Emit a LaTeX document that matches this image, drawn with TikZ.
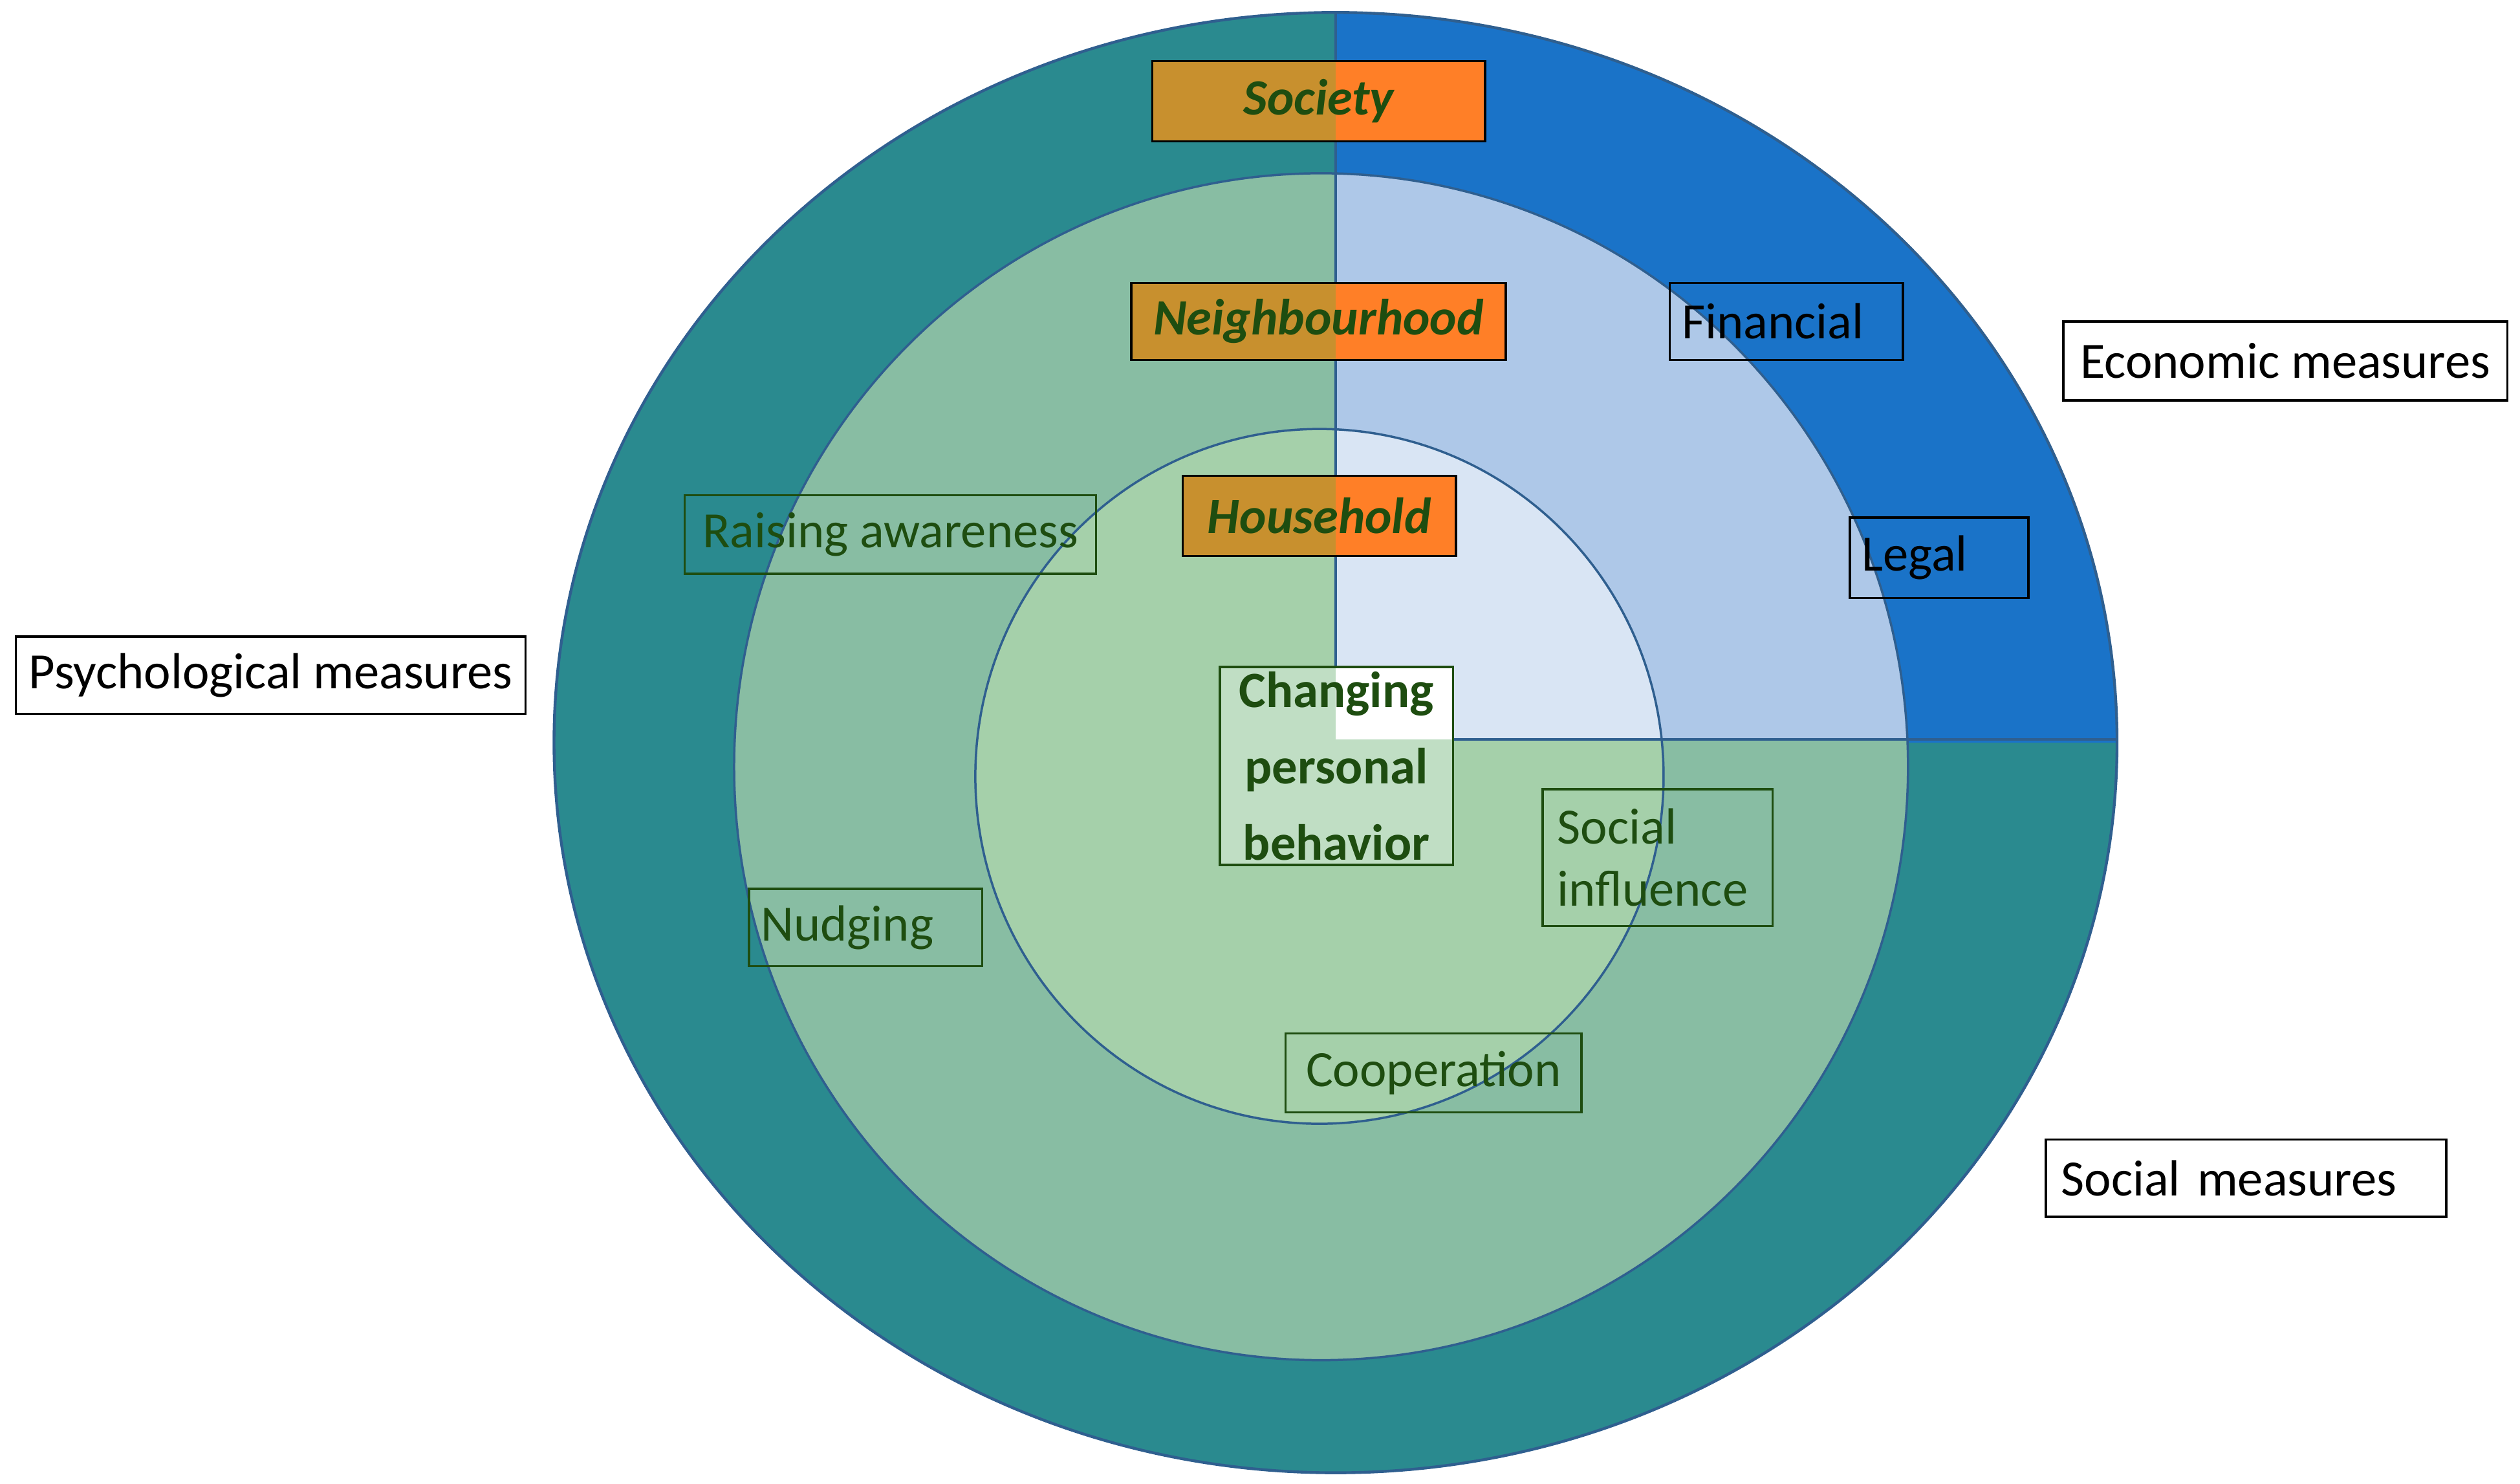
\documentclass[tikz,border=0pt]{standalone}
\usepackage{fontspec}
\setmainfont{Carlito}
\definecolor{teal1}{HTML}{2A8A8F}
\definecolor{blue1}{HTML}{1A73C8}
\definecolor{midg}{HTML}{88BDA3}
\definecolor{midb}{HTML}{AEC8E8}
\definecolor{inng}{HTML}{A5D0AA}
\definecolor{innb}{HTML}{D9E5F4}
\definecolor{edge}{HTML}{2F5F8F}
\definecolor{dg}{HTML}{1E4D10}
\definecolor{ochre}{HTML}{C8902E}
\definecolor{orng}{HTML}{FF7F27}
\begin{document}
\begin{tikzpicture}[x=0.01cm,y=-0.01cm,
  lab/.style={draw=dg,text=dg,font=\fontsize{9}{11}\selectfont,inner sep=0pt,align=center},
  blk/.style={draw=black,text=black,font=\fontsize{9}{11}\selectfont,inner sep=0pt,align=center},
  lvl/.style={text=dg,font=\fontsize{9}{11}\selectfont\bfseries\itshape,inner sep=0pt}]
\useasboundingbox (0,0) rectangle (1568,923);
% outer
\fill[teal1] (831,462) ellipse [x radius=4.86cm,y radius=4.54cm];
\begin{scope}\clip (831,462) rectangle (1400,0);
\fill[blue1] (831,462) ellipse [x radius=4.86cm,y radius=4.54cm];\end{scope}
\draw[edge,line width=0.5pt] (831,462) ellipse [x radius=4.86cm,y radius=4.54cm];
% middle
\fill[midg] (822,477) ellipse [x radius=3.65cm,y radius=3.69cm];
\begin{scope}\clip (831,460) rectangle (1400,0);
\fill[midb] (822,477) ellipse [x radius=3.65cm,y radius=3.69cm];\end{scope}
\draw[edge,line width=0.4pt] (822,477) ellipse [x radius=3.65cm,y radius=3.69cm];
% inner
\fill[inng] (821,483) ellipse [x radius=2.14cm,y radius=2.16cm];
\begin{scope}\clip (831,460) rectangle (1400,0);
\fill[innb] (821,483) ellipse [x radius=2.14cm,y radius=2.16cm];\end{scope}
\draw[edge,line width=0.4pt] (821,483) ellipse [x radius=2.14cm,y radius=2.16cm];
% quadrant lines
\coordinate (c) at (831,460);
\coordinate (top) at (831,8);
\coordinate (rt) at (1318,460);
\draw[edge,line width=0.5pt] (top) -- (c) -- (rt);
% level boxes
\foreach \n/\a/\b/\c/\d/\t in {soc/717/38/924/88/Society,nei/704/176/937/224/Neighbourhood,hou/736/296/906/346/Household}{
  \fill[ochre] (\a,\b) rectangle (831,\d);
  \fill[orng] (831,\b) rectangle (\c,\d);
  \draw[black,line width=0.4pt] (\a,\b) rectangle (\c,\d);
  \node[lvl] (\n) at ({(\a+\c)/2},{(\b+\d)/2}) {\t};
}
% centre box
\fill[inng!70!white] (759,415) rectangle (904,538);
\fill[white] (831,415) rectangle (904,460);
\node[draw=dg,inner sep=0pt,minimum width=1.45cm,minimum height=1.23cm,text=dg,align=center,
  font=\fontsize{9}{13.5}\selectfont\bfseries] (chg) at (831.5,476.5) {Changing\\personal\\behavior};
% labels
\node[blk,minimum width=1.45cm,minimum height=0.48cm,text width=1.3cm,align=left] (fin) at (1111.5,200) {Financial};
\node[blk,minimum width=1.11cm,minimum height=0.50cm,text width=0.96cm,align=left] (leg) at (1206.5,347) {Legal};
\node[lab,minimum width=2.56cm,minimum height=0.49cm] (raw) at (554,332.5) {Raising awareness};
\node[lab,minimum width=1.45cm,minimum height=0.48cm,text width=1.3cm,align=left] (nud) at (538.5,577) {Nudging};
\node[lab,minimum width=1.43cm,minimum height=0.85cm,text width=1.25cm,align=left] (si) at (1031.5,533.5) {Social\\influence};
\node[lab,minimum width=1.84cm,minimum height=0.49cm] (coo) at (892,667.5) {Cooperation};
\node[blk,fill=white,minimum width=2.76cm,minimum height=0.49cm] (eco) at (1422,224.5) {Economic measures};
\node[blk,fill=white,minimum width=3.17cm,minimum height=0.48cm] (psy) at (168.5,420) {Psychological measures};
\node[blk,fill=white,minimum width=2.49cm,minimum height=0.48cm,text width=2.3cm,align=left] (socm) at (1397.5,733) {Social measures};
\end{tikzpicture}
\end{document}
